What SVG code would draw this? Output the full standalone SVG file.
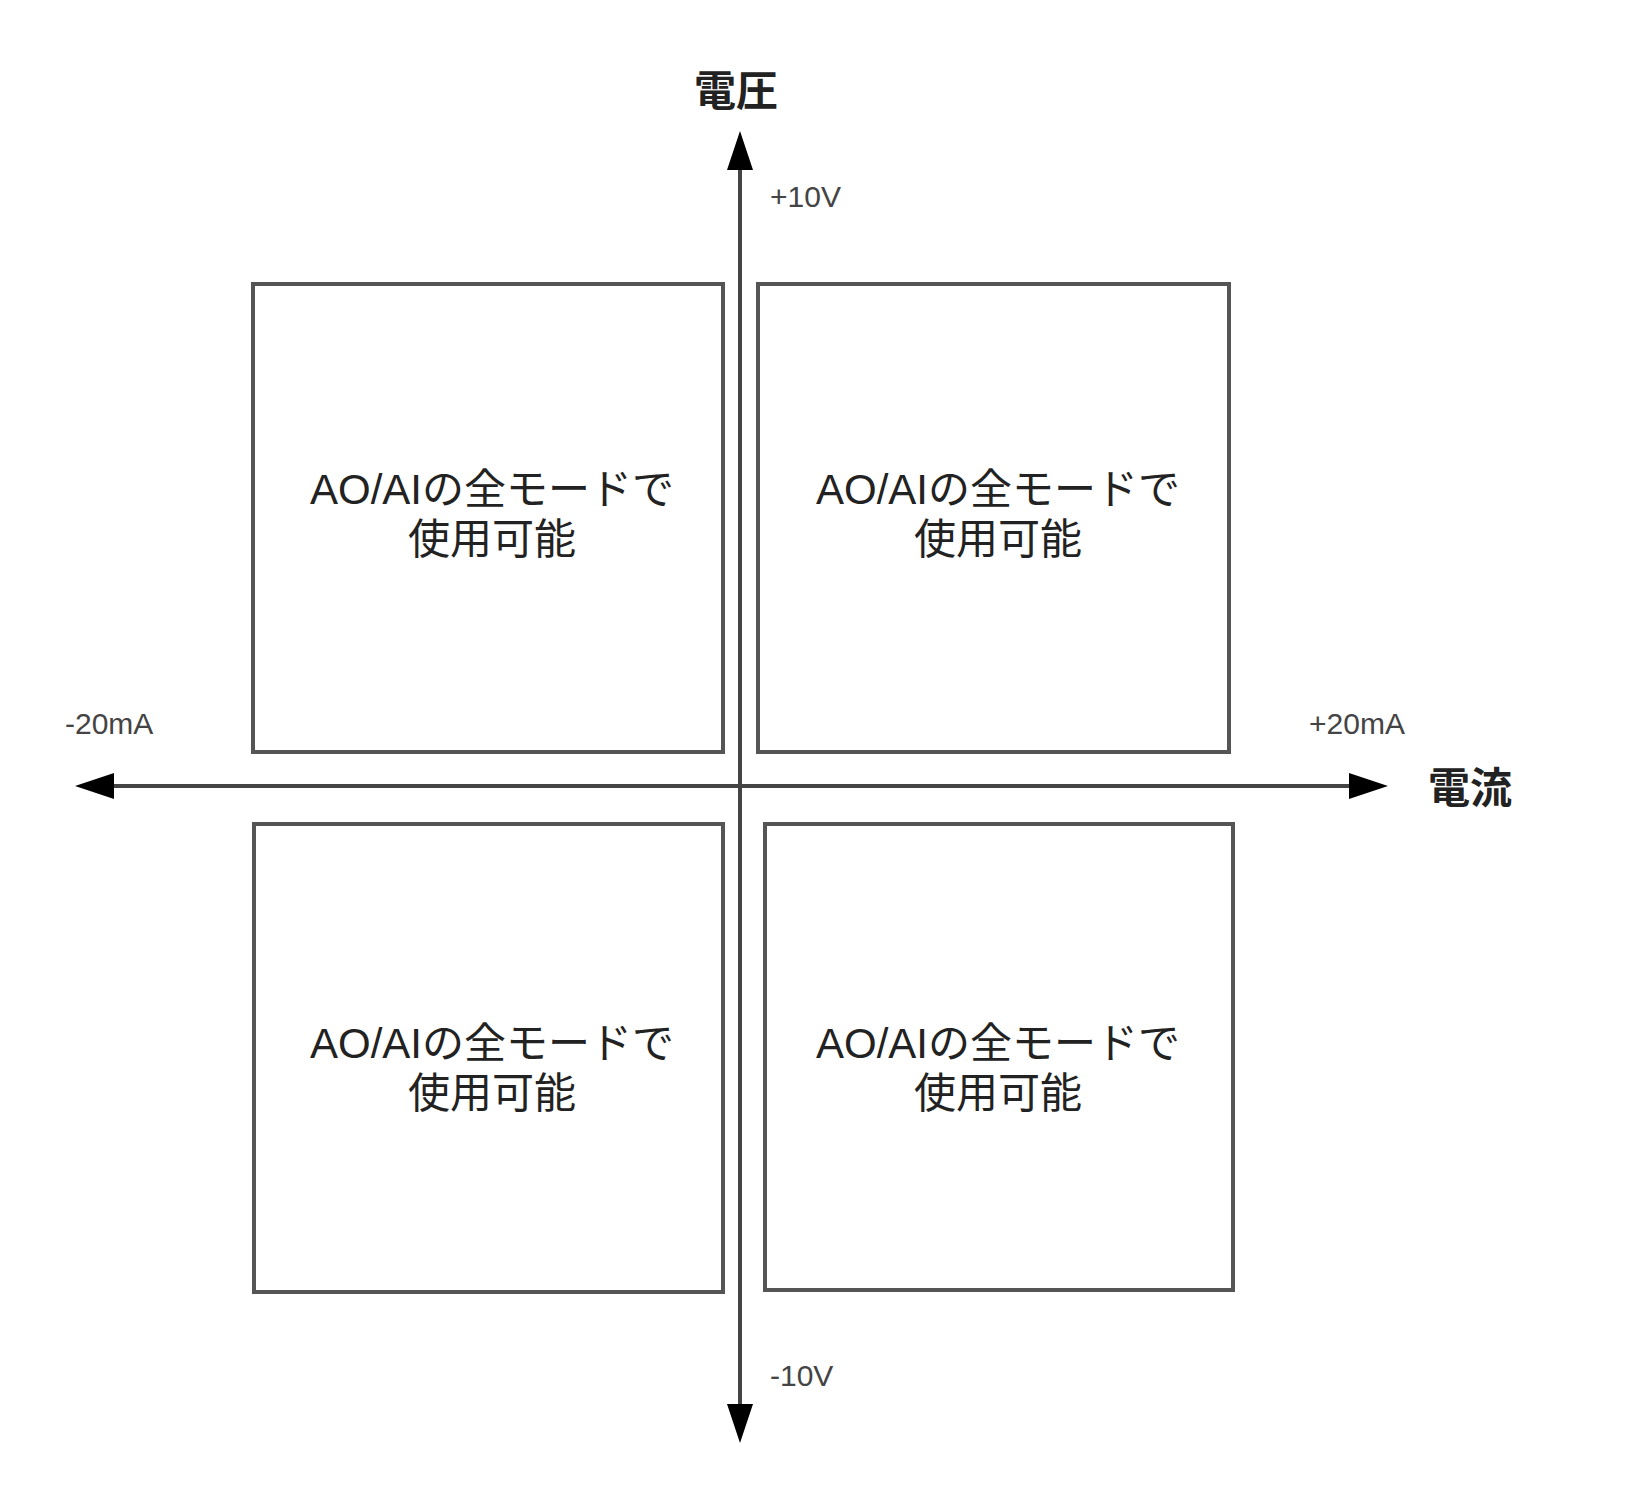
<svg xmlns="http://www.w3.org/2000/svg" width="1634" height="1492" viewBox="0 0 1634 1492">
<style>
.box{fill:#fff;stroke:#555;stroke-width:4}
.ax{stroke:#444;stroke-width:4}
.ah{fill:#000}
.t{font-family:"Liberation Sans","Noto Sans CJK JP",sans-serif;fill:#222}
.bt{font-size:42px;text-anchor:middle}
.lb{font-size:30px;fill:#444}
.ttl{font-size:42px;font-weight:bold}
</style>
<rect width="1634" height="1492" fill="#fff"/>
<g id="q1"><rect class="box" x="253" y="284" width="470" height="468"/><text class="t bt" x="492" y="504">AO/AIの全モードで</text><text class="t bt" x="492" y="554">使用可能</text></g>
<g id="q2"><rect class="box" x="758" y="284" width="471" height="468"/><text class="t bt" x="998" y="504">AO/AIの全モードで</text><text class="t bt" x="998" y="554">使用可能</text></g>
<g id="q3"><rect class="box" x="254" y="824" width="469" height="468"/><text class="t bt" x="492" y="1058">AO/AIの全モードで</text><text class="t bt" x="492" y="1108">使用可能</text></g>
<g id="q4"><rect class="box" x="765" y="824" width="468" height="466"/><text class="t bt" x="998" y="1058">AO/AIの全モードで</text><text class="t bt" x="998" y="1108">使用可能</text></g>
<g id="axes">
<line class="ax" x1="740" y1="1420" x2="740" y2="160"/>
<line class="ax" x1="105" y1="786" x2="1360" y2="786"/>
<polygon class="ah" points="740,131 727,170 753,170"/>
<polygon class="ah" points="740,1443 727,1404 753,1404"/>
<polygon class="ah" points="75,786 114,773 114,799"/>
<polygon class="ah" points="1388,786 1349,773 1349,799"/>
</g>
<text class="t ttl" x="736" y="106" text-anchor="middle">電圧</text>
<text class="t ttl" x="1428" y="803">電流</text>
<text class="t lb" x="770" y="207">+10V</text>
<text class="t lb" x="770" y="1386">-10V</text>
<text class="t lb" x="65" y="734">-20mA</text>
<text class="t lb" x="1309" y="734">+20mA</text>
</svg>
